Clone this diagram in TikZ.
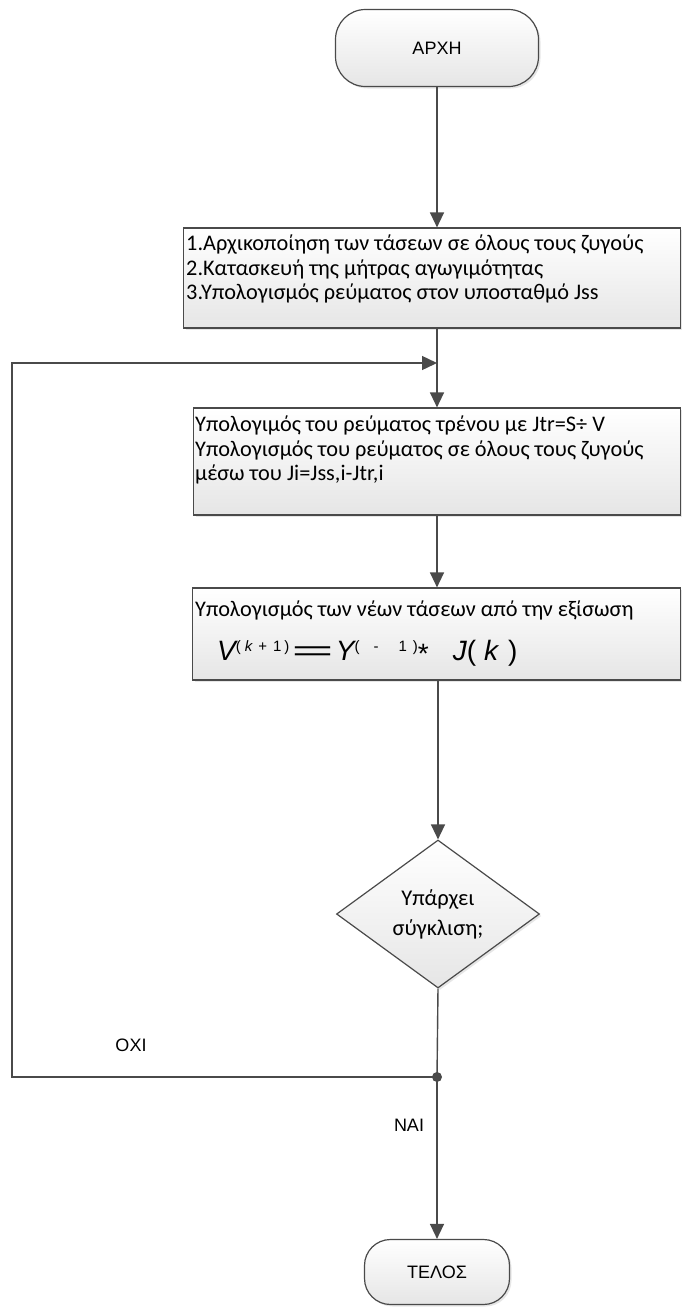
\documentclass[tikz,border=0pt]{standalone}
\usepackage{fontspec}
\usepackage{graphicx}
\setmainfont{Carlito}
\newfontfamily\arialfont{Liberation Sans}
\usetikzlibrary{arrows.meta,shapes.geometric,shadows}

\definecolor{linegray}{HTML}{4A4A4A}

\newcommand{\supsc}[1]{\raisebox{9pt}{\fontsize{15}{15}\selectfont\upshape #1}}

\tikzset{
  flowline/.style={draw=linegray,line width=1.4pt},
  flowarrow/.style={flowline,-{Triangle[width=14pt,length=15pt]}},
  shaded/.style={draw=linegray,line width=1.2pt,top color=white,bottom color=black!10,
    drop shadow={opacity=.2,shadow xshift=2pt,shadow yshift=-2pt}},
  procbox/.style={shaded,rectangle,inner sep=0pt},
  termbox/.style={shaded,rectangle,rounded corners=30pt,inner sep=0pt,
    font=\arialfont\fontsize{18}{20}\selectfont},
  decbox/.style={shaded,diamond,inner sep=0pt,align=center,
    font=\fontsize{22.5}{30}\selectfont},
  boxtext/.style={anchor=north west,inner sep=0pt,align=left,
    font=\fontsize{22.3}{24.5}\selectfont},
  lbl/.style={inner sep=0pt,font=\arialfont\fontsize{18}{20}\selectfont}
}

\begin{document}
\begin{tikzpicture}[x=1pt,y=-1pt]
  \useasboundingbox (0,0) rectangle (682,1312);

  \node[termbox,minimum width=203pt,minimum height=77pt] (start) at (437,48) {ΑΡΧΗ};

  \node[procbox,minimum width=497pt,minimum height=100pt] (box1) at (432,278) {};
  \node[boxtext] (t1) at (186,235) {1.Αρχικοποίηση των τάσεων σε όλους τους ζυγούς\\
    2.Κατασκευή της μήτρας αγωγιμότητας\\
    3.Υπολογισμός ρεύματος στον υποσταθμό Jss};

  \node[procbox,minimum width=487pt,minimum height=107pt] (box2) at (437,461.5) {};
  \node[boxtext] (t2) at (195,416) {Υπολογιμός του ρεύματος τρένου με Jtr=S÷ V\\
    Υπολογισμός του ρεύματος σε όλους τους ζυγούς\\
    μέσω του Ji=Jss,i-Jtr,i};

  \node[procbox,minimum width=488pt,minimum height=92pt] (box3) at (436.5,634) {};
  \node[boxtext] (t3) at (195,601) {Υπολογισμός των νέων τάσεων από την εξίσωση};
  \node[anchor=base west,inner sep=0pt,font=\arialfont\fontsize{28}{30}\selectfont] (eq) at (217,660)
    {\itshape V\supsc{(\hspace{4pt}\itshape k\upshape\hspace{6pt}+\hspace{6pt}1\hspace{3pt})}\hspace{2pt}\scalebox{2.6}[1]{\upshape=}\hspace{2pt}\itshape Y\supsc{(\hspace{14pt}-\hspace{20pt}1\hspace{6pt})}\raisebox{-3pt}{\upshape*}\hspace{24pt}\itshape J\upshape(\hspace{8pt}\itshape k\upshape\hspace{10pt})};

  \node[decbox,minimum width=203pt,minimum height=148pt] (dec) at (438,914) {Υπάρχει\\σύγκλιση;};

  \node[termbox,minimum width=145pt,minimum height=65pt,rounded corners=26pt] (stop) at (437,1272) {ΤΕΛΟΣ};

  \coordinate (merge) at (437,363);
  \coordinate (join) at (437,1077);
  \coordinate (back) at (12,1077);
  \coordinate (backtop) at (12,363);

  \draw[flowarrow] (start.south) -- (start.south |- box1.north);
  \draw[flowline] (start.south |- box1.south) -- (merge);
  \draw[flowarrow] (merge) -- (merge |- box2.north);
  \draw[flowarrow] (box2.south) -- (box2.south |- box3.north);
  \draw[flowarrow] (dec.north |- box3.south) -- (dec.north);
  \draw[flowline] (dec.south) -- (join);
  \draw[flowarrow] (join) -- (join |- stop.north);
  \draw[flowarrow] (join) -- (back) -- (backtop) -- (merge);
  \fill[linegray] (join) circle (5pt);

  \node[lbl] (no) at (131,1045) {ΟΧΙ};
  \node[lbl] (yes) at (409,1125) {ΝΑΙ};
\end{tikzpicture}
\end{document}
